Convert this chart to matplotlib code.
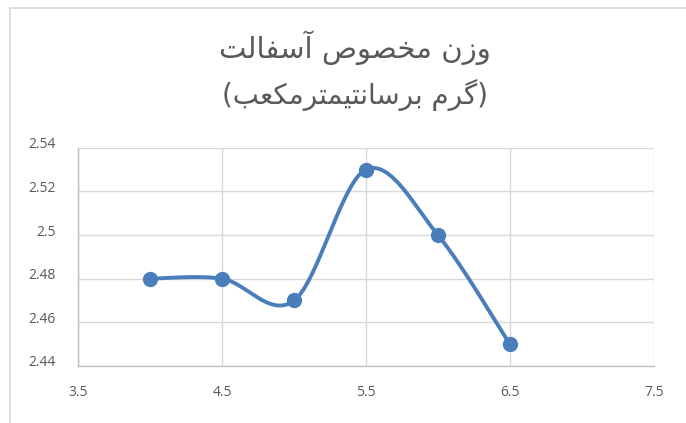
import numpy as np
import matplotlib
matplotlib.use("Agg")
import matplotlib.pyplot as plt
from matplotlib.lines import Line2D
from matplotlib.transforms import ScaledTranslation

# data: thickness-like x values vs specific gravity
x_vals = [4.0, 4.5, 5.0, 5.5, 6.0, 6.5]
y_vals = [2.48, 2.48, 2.47, 2.53, 2.50, 2.45]
x_ticks = [3.5, 4.5, 5.5, 6.5, 7.5]
y_ticks = [2.44, 2.46, 2.48, 2.50, 2.52, 2.54]
y_labels = ["2.44", "2.46", "2.48", "2.5", "2.52", "2.54"]
title_1 = "وزن مخصوص آسفالت"
title_2 = "(گرم برسانتیمترمکعب)"

BLUE = "#4a7ebb"
GRID = "#d9d9d9"
AXIS = "#bfbfbf"
TXT = "#595959"

# isolated, final, initial, medial presentation forms
FORMS = {
    "ا": ("\uFE8D", "\uFE8E"),
    "آ": ("\uFE81", "\uFE82"),
    "ب": ("\uFE8F", "\uFE90", "\uFE91", "\uFE92"),
    "ت": ("\uFE95", "\uFE96", "\uFE97", "\uFE98"),
    "خ": ("\uFEA5", "\uFEA6", "\uFEA7", "\uFEA8"),
    "ر": ("\uFEAD", "\uFEAE"),
    "ز": ("\uFEAF", "\uFEB0"),
    "س": ("\uFEB1", "\uFEB2", "\uFEB3", "\uFEB4"),
    "ص": ("\uFEB9", "\uFEBA", "\uFEBB", "\uFEBC"),
    "ع": ("\uFEC9", "\uFECA", "\uFECB", "\uFECC"),
    "ف": ("\uFED1", "\uFED2", "\uFED3", "\uFED4"),
    "ل": ("\uFEDD", "\uFEDE", "\uFEDF", "\uFEE0"),
    "م": ("\uFEE1", "\uFEE2", "\uFEE3", "\uFEE4"),
    "ن": ("\uFEE5", "\uFEE6", "\uFEE7", "\uFEE8"),
    "و": ("\uFEED", "\uFEEE"),
    "ی": ("\uFBFC", "\uFBFD", "\uFBFE", "\uFBFF"),
    "ک": ("\uFB8E", "\uFB8F", "\uFB90", "\uFB91"),
    "گ": ("\uFB92", "\uFB93", "\uFB94", "\uFB95"),
}


def shape_rtl(text):
    out = []
    for i, ch in enumerate(text):
        if ch not in FORMS:
            out.append(ch)
            continue
        prev = text[i - 1] if i > 0 else ""
        nxt = text[i + 1] if i + 1 < len(text) else ""
        join_prev = prev in FORMS and len(FORMS[prev]) == 4
        join_next = nxt in FORMS and len(FORMS[ch]) == 4
        f = FORMS[ch]
        if join_prev and join_next:
            out.append(f[3])
        elif join_prev:
            out.append(f[1])
        elif join_next:
            out.append(f[2])
        else:
            out.append(f[0])
    vis = "".join(out)[::-1]
    return vis.translate(str.maketrans("()", ")("))


def excel_smooth(xs, ys, n=40):
    # cubic bezier through the points, catmull-rom style tangents
    p = np.column_stack([xs, ys])
    p = np.vstack([p[0], p, p[-1]])
    cx, cy = [], []
    t = np.linspace(0, 1, n)[:, None]
    for i in range(1, len(p) - 2):
        p0, p1, p2, p3 = p[i - 1], p[i], p[i + 1], p[i + 2]
        c1 = p1 + (p2 - p0) / 6
        c2 = p2 - (p3 - p1) / 6
        seg = ((1 - t) ** 3) * p1 + 3 * ((1 - t) ** 2) * t * c1 + 3 * (1 - t) * t ** 2 * c2 + t ** 3 * p2
        cx.extend(seg[:, 0])
        cy.extend(seg[:, 1])
    return np.array(cx), np.array(cy)


fig = plt.figure(figsize=(6.86, 4.23), dpi=100)
ax = fig.add_axes([0.1141, 0.1348, 0.8388, 0.516])

sx, sy = excel_smooth(x_vals, y_vals)
ax.plot(sx, sy, color=BLUE, lw=2.8, solid_capstyle="round", zorder=3)
ax.plot(x_vals, y_vals, "o", color=BLUE, ms=10, zorder=4)

ax.set_xlim(3.5, 7.5)
ax.set_ylim(2.44, 2.54)
ax.set_xticks(x_ticks)
ax.set_yticks(y_ticks)
ax.set_yticklabels(y_labels)
ax.grid(True, color=GRID, lw=1.0)
ax.set_axisbelow(True)
for side in ["top", "right"]:
    ax.spines[side].set_visible(False)
ax.spines["left"].set_color(AXIS)
ax.spines["bottom"].set_color(AXIS)
ax.spines["left"].set_linewidth(1.0)
ax.spines["bottom"].set_linewidth(1.0)
ax.tick_params(length=0, colors=TXT, labelsize=10)
ax.tick_params(axis="y", pad=16)
ax.tick_params(axis="x", pad=14)
for lab in ax.get_xticklabels() + ax.get_yticklabels():
    lab.set_fontfamily("Open Sans")
for lab in ax.get_yticklabels():
    lab.set_transform(lab.get_transform() + ScaledTranslation(0, 5 / 100, fig.dpi_scale_trans))

fig.text(0.517, 0.887, shape_rtl(title_1), ha="center", va="center",
         fontsize=21, color=TXT, family="DejaVu Sans")
fig.text(0.517, 0.775, shape_rtl(title_2), ha="center", va="center",
         fontsize=20, color=TXT, family="DejaVu Sans")

# chart frame
fig.add_artist(Line2D([10 / 686, 10 / 686], [0, 1 - 8 / 423], transform=fig.transFigure,
                      color=GRID, lw=1.3))
fig.add_artist(Line2D([10 / 686, 1], [1 - 8 / 423, 1 - 8 / 423], transform=fig.transFigure,
                      color=GRID, lw=1.3))

fig.savefig("out.png", dpi=100, facecolor="white")
